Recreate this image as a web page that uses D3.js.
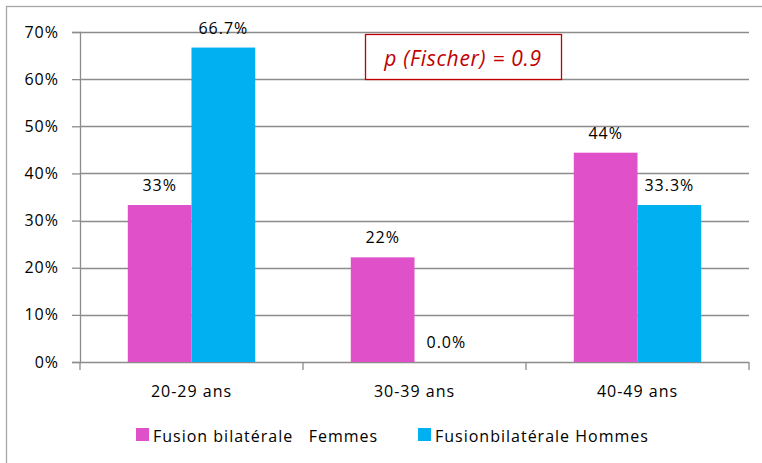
<!DOCTYPE html>
<html>
<head>
<meta charset="utf-8">
<script src="https://cdn.jsdelivr.net/npm/d3@7"></script>
<style>
  html, body { margin: 0; padding: 0; background: #fff; }
  svg { display: block; }
  text { font-family: "Open Sans", "Noto Sans", sans-serif; fill: #000; }
</style>
</head>
<body>
<svg id="chart" width="762" height="463"></svg>
<script>
// Age groups and the share of bilateral fusion per sex (percent)
const categories = ["20-29 ans", "30-39 ans", "40-49 ans"];
const seriesNames = ["Fusion bilatérale   Femmes", "Fusionbilatérale Hommes"];
const femmes = [33.3, 22.2, 44.4];
const hommes = [66.7, 0.0, 33.3];
const yTicks = [0, 10, 20, 30, 40, 50, 60, 70];
const colors = ["#E050C8", "#00B0F0"];
const labelFormats = [d3.format(".0f"), d3.format(".1f")];
const annotation = "p (Fischer) = 0.9";

const FS = 16;      // base font size
const LS = "1px";   // letter spacing of the chart texts

const svg = d3.select("#chart");
const margin = { left: 80, right: 13, top: 32, bottom: 101 };
const W = 762, H = 463;
const plotW = W - margin.left - margin.right;
const plotH = H - margin.top - margin.bottom;

// Outer chart frame
svg.append("rect")
  .attr("x", 6.5).attr("y", 6.5)
  .attr("width", W + 10).attr("height", H + 10)
  .attr("fill", "#fff").attr("stroke", "#a6a6a6").attr("stroke-width", 1.3);

const g = svg.append("g").attr("transform", `translate(${margin.left},${margin.top})`);

const x0 = d3.scaleBand().domain(categories).range([0, plotW]).paddingInner(0).paddingOuter(0);
// Bar width = category width / 3.5 (gap 150%)
const x1 = d3.scaleBand().domain([0, 1]).range([0, x0.bandwidth()]).paddingInner(0).paddingOuter(0.75);
const y = d3.scaleLinear().domain([0, 70]).range([plotH, 0]);

// Horizontal gridlines
g.append("g").selectAll("line").data(yTicks.slice(1)).join("line")
  .attr("x1", 0).attr("x2", plotW)
  .attr("y1", d => Math.round(y(d)) + 0.5).attr("y2", d => Math.round(y(d)) + 0.5)
  .attr("stroke", "#8c8c8c").attr("stroke-width", 1.3);

// Y axis
const yAxis = g.append("g")
  .call(d3.axisLeft(y).tickValues(yTicks).tickFormat(d => d + "%").tickSize(8).tickPadding(13));
yAxis.select(".domain").attr("stroke", "#8c8c8c").attr("stroke-width", 1.3);
yAxis.selectAll(".tick line").attr("stroke", "#8c8c8c").attr("stroke-width", 1.3);
yAxis.selectAll(".tick text").attr("font-size", FS).attr("font-family", "Open Sans")
  .attr("fill", "#000").style("letter-spacing", LS);

// X axis with ticks at category boundaries
const xAxisG = g.append("g").attr("transform", `translate(0,${plotH})`);
xAxisG.append("line").attr("x1", 0).attr("x2", plotW).attr("y1", 0.5).attr("y2", 0.5)
  .attr("stroke", "#8c8c8c").attr("stroke-width", 1.3);
const bounds = categories.map(c => x0(c)).concat([plotW]);
xAxisG.selectAll("line.tk").data(bounds).join("line").attr("class", "tk")
  .attr("x1", d => d).attr("x2", d => d).attr("y1", 0).attr("y2", 8)
  .attr("stroke", "#8c8c8c").attr("stroke-width", 1.3);
xAxisG.selectAll("text").data(categories).join("text")
  .attr("x", d => x0(d) + x0.bandwidth() / 2).attr("y", 35)
  .attr("text-anchor", "middle").attr("font-size", FS).style("letter-spacing", LS)
  .text(d => d);

// Bars with value labels
const series = [femmes, hommes];
series.forEach((vals, si) => {
  const sg = g.append("g");
  sg.selectAll("rect").data(vals).join("rect")
    .attr("x", (d, i) => x0(categories[i]) + x1(si))
    .attr("width", x1.bandwidth())
    .attr("y", d => y(d))
    .attr("height", d => y(0) - y(d))
    .attr("fill", colors[si]);
  sg.selectAll("text").data(vals).join("text")
    .attr("x", (d, i) => x0(categories[i]) + x1(si) + x1.bandwidth() / 2)
    .attr("y", d => y(d) - 14)
    .attr("text-anchor", "middle").attr("font-size", FS).style("letter-spacing", LS)
    .text(d => labelFormats[si](d) + "%");
});

// Statistical annotation box
const box = svg.append("g");
box.append("rect").attr("x", 365.5).attr("y", 34.5).attr("width", 196).attr("height", 45)
  .attr("fill", "#fff").attr("stroke", "#c00000").attr("stroke-width", 1.3);
box.append("text").attr("x", 463).attr("y", 66).attr("text-anchor", "middle")
  .attr("font-size", 21).attr("font-style", "italic").style("fill", "#c00000")
  .style("letter-spacing", "0.7px")
  .text(annotation);

// Legend
const legendX = [136, 418];
const legend = svg.append("g");
seriesNames.forEach((name, i) => {
  legend.append("rect").attr("x", legendX[i]).attr("y", 428).attr("width", 13).attr("height", 13)
    .attr("fill", colors[i]);
  legend.append("text").attr("x", legendX[i] + 17).attr("y", 442)
    .attr("font-size", FS).style("letter-spacing", LS).style("white-space", "pre")
    .text(name);
});
</script>
</body>
</html>
